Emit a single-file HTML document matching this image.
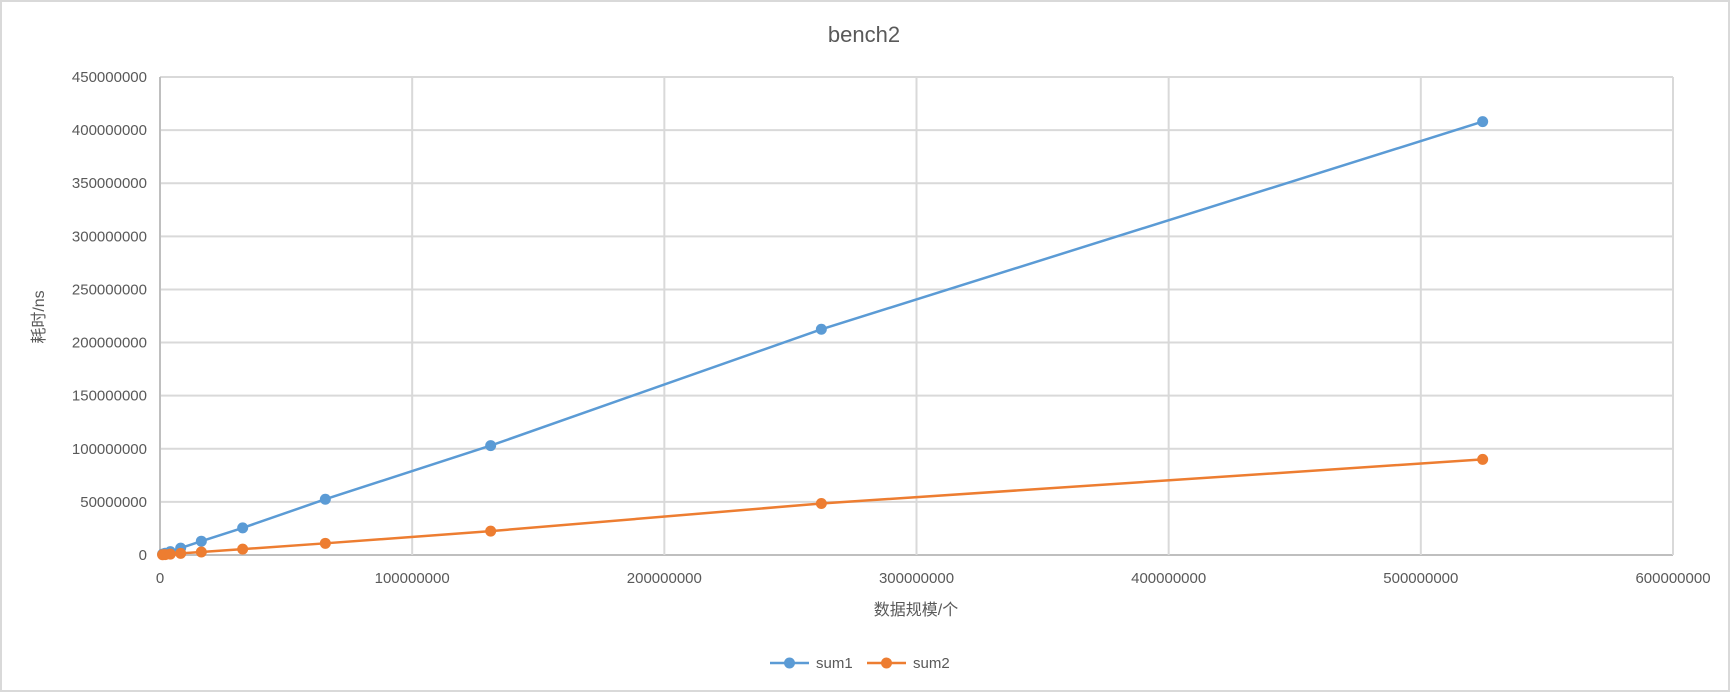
<!DOCTYPE html>
<html><head><meta charset="utf-8"><style>
html,body{margin:0;padding:0;background:#fff;}
svg text{font-family:"Liberation Sans","Noto Sans CJK SC",sans-serif;fill:#595959;}
</style></head><body>
<svg id="chart" width="1730" height="692" viewBox="0 0 1730 692" xmlns="http://www.w3.org/2000/svg">
<rect x="1" y="1" width="1728" height="690" fill="#fff" stroke="#d9d9d9" stroke-width="2"/>
<text x="864" y="42" text-anchor="middle" font-size="22">bench2</text>
<g id="grid"></g><g id="series"></g><g id="labels"></g>
<text x="916" y="615" text-anchor="middle" font-size="16">数据规模/个</text>
<text transform="translate(44,317) rotate(-90)" text-anchor="middle" font-size="16">耗时/ns</text>
<g>
<g>
<line x1="770" y1="663" x2="809" y2="663" stroke="#5b9bd5" stroke-width="2.5"/><circle cx="789.5" cy="663" r="5.5" fill="#5b9bd5"/>
<text x="816" y="668" font-size="15">sum1</text></g>
<g>
<line x1="867" y1="663" x2="906" y2="663" stroke="#ed7d31" stroke-width="2.5"/><circle cx="886.5" cy="663" r="5.5" fill="#ed7d31"/>
<text x="913" y="668" font-size="15">sum2</text></g>
</g>
</svg>
<script>
const xValues=[1048576,2097152,4194304,8388608,16777216,33554432,67108864,134217728,268435456,536870912].map(v=>v*0.977);
const sum1Values=[0.8e6,1.6e6,3.2e6,6.5e6,13e6,25.5e6,52.5e6,103e6,212.5e6,408e6];
const sum2Values=[0.2e6,0.4e6,0.8e6,1.5e6,2.8e6,5.5e6,11e6,22.5e6,48.5e6,90e6];
const xTicks=[0,100000000,200000000,300000000,400000000,500000000,600000000];
const yTicks=[0,50000000,100000000,150000000,200000000,250000000,300000000,350000000,400000000,450000000];
const L=160,R=1673,T=77,B=555,XMAX=600000000,YMAX=450000000;
const sx=v=>L+(R-L)*v/XMAX, sy=v=>B-(B-T)*v/YMAX;
const NS="http://www.w3.org/2000/svg";
const grid=document.getElementById('grid'),lab=document.getElementById('labels'),ser=document.getElementById('series');
function mk(tag,attrs,parent){const e=document.createElementNS(NS,tag);for(const k in attrs)e.setAttribute(k,attrs[k]);parent.appendChild(e);return e;}
yTicks.forEach(v=>{
 const l=mk('line',{x1:L,x2:R,y1:sy(v),y2:sy(v),stroke:v===0?'#bfbfbf':'#d9d9d9','stroke-width':2},grid);
 
 
 const t=mk('text',{x:147,y:sy(v)+5,'text-anchor':'end','font-size':15},lab);t.textContent=v;
 
 
});
xTicks.forEach(v=>{
 const l=mk('line',{x1:sx(v),x2:sx(v),y1:T,y2:B,stroke:v===0?'#bfbfbf':'#d9d9d9','stroke-width':2},grid);
 
 
 const t=mk('text',{x:sx(v),y:583,'text-anchor':'middle','font-size':15},lab);t.textContent=v;
 
 
});
function drawSeries(vals,color,name){
 const g=mk('g',{},ser);
 
 
 const p=mk('polyline',{points:vals.map((v,i)=>sx(xValues[i])+','+sy(v)).join(' '),fill:'none',stroke:color,'stroke-width':2.5},g);
 
 
 vals.forEach((v,i)=>{const c=mk('circle',{cx:sx(xValues[i]),cy:sy(v),r:5.5,fill:color},g);
  
  });
}
drawSeries(sum1Values,'#5b9bd5','sum1');
drawSeries(sum2Values,'#ed7d31','sum2');
</script>
</body></html>
